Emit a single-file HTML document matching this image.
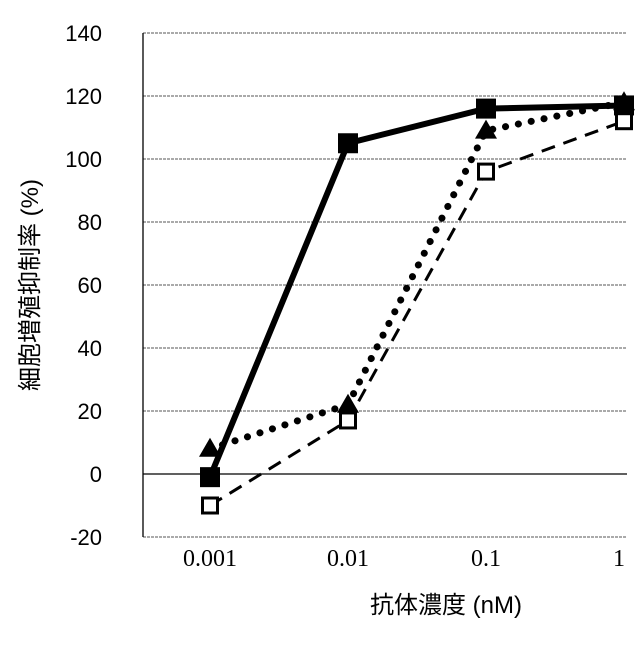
<!DOCTYPE html>
<html><head><meta charset="utf-8"><style>
body{margin:0;background:#fff}
svg text{fill:#000}
</style></head><body>
<svg id="chart" width="640" height="640" viewBox="0 0 640 640" xmlns="http://www.w3.org/2000/svg">
<g id="grid"></g>
<g id="yticks"></g>
<g id="xticks"></g>
<g id="series"></g>
<text transform="translate(38,285) rotate(-90)" text-anchor="middle" font-size="24" font-family="'Liberation Sans','Noto Sans CJK JP',sans-serif">細胞増殖抑制率 (%)</text>
<text x="446" y="613" text-anchor="middle" font-size="24" font-family="'Liberation Sans','Noto Sans CJK JP',sans-serif">抗体濃度 (nM)</text>
</svg>
<script>
const categories=["0.001","0.01","0.1","1"];
const yTicks=[-20,0,20,40,60,80,100,120,140];
const filledSquare=[-1,105,116,117];
const triangle=[8,22,109,118];
const openSquare=[-10,17,96,112];
const NS="http://www.w3.org/2000/svg";
const L=143,R=627,T=33,B=537;
const y=v=>B-(v+20)/160*(B-T);
const x=i=>210+i*138;
function mk(tag,attrs,parent){const e=document.createElementNS(NS,tag);for(const k in attrs)e.setAttribute(k,attrs[k]);parent.appendChild(e);return e;}
const grid=document.getElementById('grid'),yt=document.getElementById('yticks'),xt=document.getElementById('xticks'),ser=document.getElementById('series');
yTicks.forEach(v=>{
 const ln=mk('line',{x1:L,x2:R,y1:y(v),y2:y(v),stroke:v===0?'#000':'#777','stroke-width':v===0?1.3:1.2,'stroke-dasharray':v===0?'':'3,1'},grid);
 
 
 const t=mk('text',{x:102,y:y(v)+8,'text-anchor':'end','font-size':22,'font-family':"'Liberation Sans',sans-serif"},yt);
 t.textContent=v;
 
 
});
const ax=mk('line',{x1:L,x2:L,y1:T,y2:B,stroke:'#000','stroke-width':1.3},grid);


categories.forEach((c,i)=>{
 const t=mk('text',{x:Math.min(x(i),619),y:566,'text-anchor':'middle','font-size':24,'font-family':"'Liberation Serif',serif"},xt);
 t.textContent=c;
 
 
});
function line(vals,attrs,name){
 const p=mk('polyline',Object.assign({points:vals.map((v,i)=>x(i)+','+y(v)).join(' '),fill:'none',stroke:'#000'},attrs),ser);
 
 
}
line(openSquare,{'stroke-width':3,'stroke-dasharray':'14,9'},'line-open-square');
line(triangle,{'stroke-width':7,'stroke-dasharray':'0.1,13','stroke-linecap':'round'},'line-triangle');
line(filledSquare,{'stroke-width':6},'line-filled-square');
triangle.forEach((v,i)=>{
 const p=mk('polygon',{points:`${x(i)},${y(v)-11} ${x(i)-11},${y(v)+8} ${x(i)+11},${y(v)+8}`,fill:'#000'},ser);
 
 
});
filledSquare.forEach((v,i)=>{
 const r=mk('rect',{x:x(i)-10,y:y(v)-10,width:20,height:20,fill:'#000'},ser);
 
 
});
openSquare.forEach((v,i)=>{
 const r=mk('rect',{x:x(i)-7.5,y:y(v)-7.5,width:15,height:15,fill:'#fff',stroke:'#000','stroke-width':3},ser);
 
 
});
</script>
</body></html>
